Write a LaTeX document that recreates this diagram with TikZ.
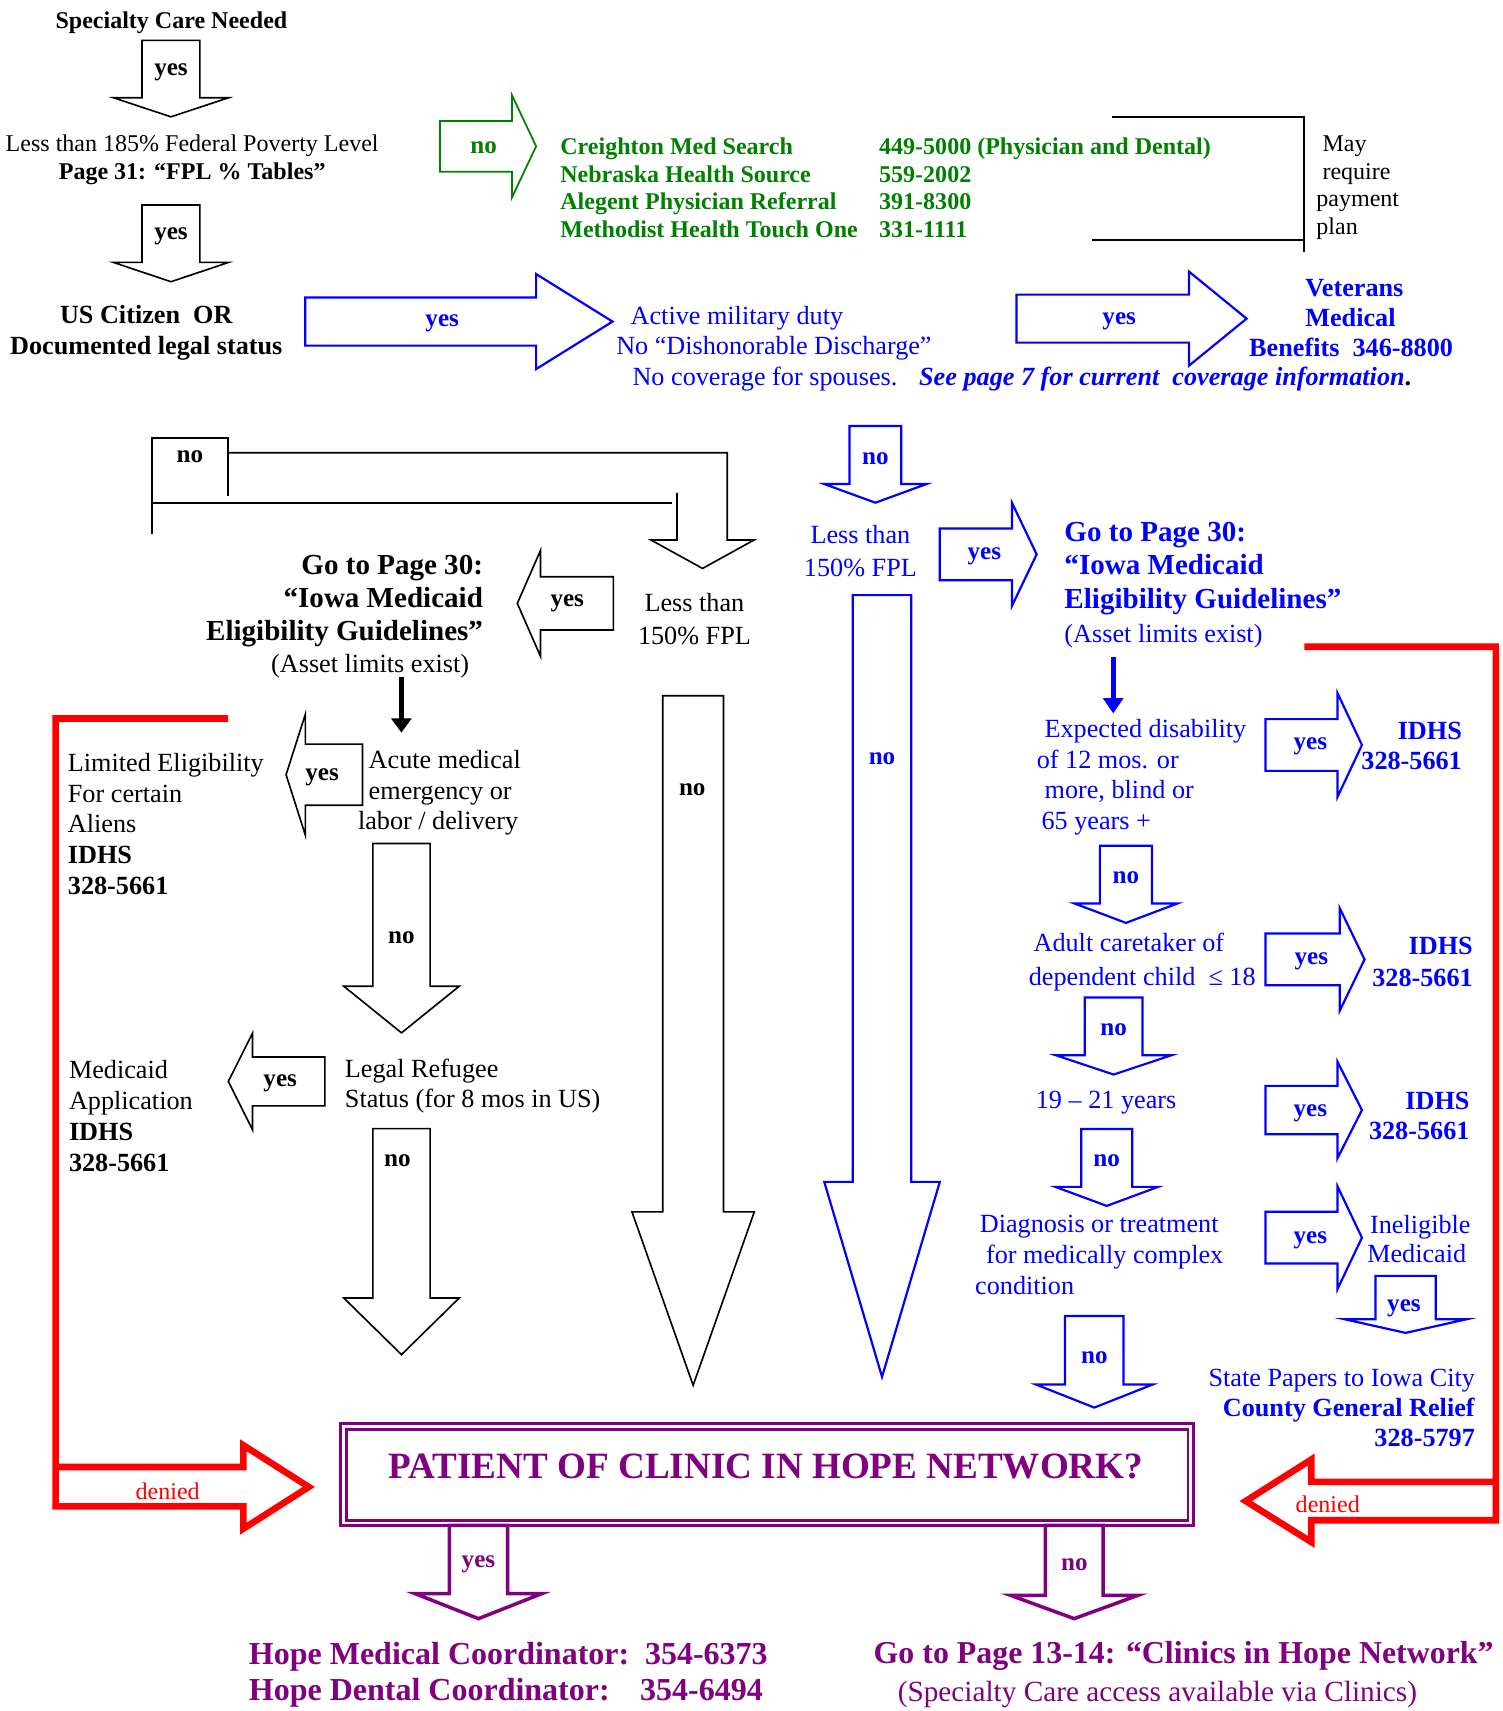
\documentclass[tikz,border=0pt]{standalone}
\usepackage{fontspec}
\setmainfont{Liberation Serif}
\usetikzlibrary{arrows.meta}
\definecolor{hgreen}{RGB}{0,128,0}
\definecolor{hpurple}{RGB}{128,0,128}
\newcommand{\vblock}[7]{\draw[#1] ({#2-#3},#5) -- ({#2+#3},#5) -- ({#2+#3},#6) -- ({#2+#4},#6) -- (#2,#7) -- ({#2-#4},#6) -- ({#2-#3},#6) -- cycle;}
\newcommand{\hblock}[7]{\draw[#1] (#5,{#2-#3}) -- (#6,{#2-#3}) -- (#6,{#2-#4}) -- (#7,#2) -- (#6,{#2+#4}) -- (#6,{#2+#3}) -- (#5,{#2+#3}) -- cycle;}
\begin{document}
\begin{tikzpicture}[x=1pt,y=-1pt,
  every node/.style={inner sep=0pt},
  txt/.style 2 args={font=\fontsize{#1}{#2}\selectfont,yshift=-2.5pt},
  btxt/.style 2 args={font=\fontsize{#1}{#2}\selectfont\bfseries,yshift=-2.5pt},
  lab/.style={btxt={23}{26}},
  blk/.style={draw=black,line width=1.5pt},
  grn/.style={draw=hgreen,line width=1.6pt},
  blu/.style={draw=blue,line width=2pt},
  pur/.style={draw=hpurple,line width=3.2pt},
  redl/.style={draw=red,line width=6pt}]
\fill[white] (0,0) rectangle (1376,1567);
\node[btxt={22}{26}] (care) at (157,18) {Specialty Care Needed};
\vblock{blk}{156.6}{26.5}{52.8}{37}{89.5}{107}
\node[lab] (yes1) at (156.6,64) {yes};
\node[txt={22}{26},align=center] (fpl) at (176,144) {Less than 185\% Federal Poverty Level\\\textbf{Page 31: “FPL \% Tables”}};
\vblock{blk}{156.6}{26.5}{52.8}{187.8}{240.3}{258}
\node[lab] (yes2) at (156.6,213.7) {yes};
\node[btxt={24}{28.5},align=center] (citizen) at (134,302.5) {US Citizen\ \ OR\\Documented legal status};
\hblock{grn}{134}{23.2}{46.6}{403}{469}{491}
\node[lab,text=hgreen] (no1) at (443,133) {no};
\node[btxt={22}{25.4},text=hgreen,align=left,anchor=west] (referral) at (513,169.5) {Creighton Med Search\\Nebraska Health Source\\Alegent Physician Referral\\Methodist Health Touch One};
\node[btxt={22}{25.4},text=hgreen,align=left,anchor=west] (phones) at (805,169.5) {449-5000 (Physician and Dental)\\559-2002\\391-8300\\331-1111};
\draw[blk,line width=2pt] (1018.7,107) -- (1194.5,107) -- (1194.5,230.5);
\draw[blk,line width=2pt] (1000.3,219.8) -- (1194.5,219.8);
\node[txt={22}{25.4},align=left,anchor=west] (payplan) at (1205.4,169.5) {\hspace*{5.6pt}May\\\hspace*{5.6pt}require\\payment\\plan};
\hblock{blu}{294.5}{22}{43.5}{279.6}{491}{561}
\node[lab,text=blue] (yes3) at (405,294) {yes};
\node[txt={24}{28},text=blue,align=left,anchor=west] (military) at (564.2,316.5) {\hspace*{13.2pt}Active military duty\\No “Dishonorable Discharge”\\\hspace*{14.9pt}No coverage for spouses.};
\node[txt={24}{28},anchor=west] (seepage) at (841.6,344.4) {\textcolor{blue}{\textbf{\textit{See page 7 for current\ \ coverage information}}}\textbf{.}};
\hblock{blu}{291.8}{22}{43}{930.9}{1089}{1141.7}
\node[lab,text=blue] (yes4) at (1025,292) {yes};
\node[btxt={24}{27.5},text=blue,align=left,anchor=west] (veterans) at (1143.9,288.5) {\hspace*{51.4pt}Veterans\\\hspace*{51.4pt}Medical\\Benefits\ \ 346-8800};
\draw[blk] (139,489.5) |- (209,401) -- (209,454.3);
\draw[blk] (209,414.6) -| (666,494.6) -- (690.5,494.6) -- (643.4,520.6) -- (596.3,494.6) -- (620,494.6) -- (620,451.3);
\draw[blk] (139,460.4) -- (615,460.4);
\node[lab] (no2) at (174,416) {no};
\node[txt={24}{29.6},align=center] (less150) at (636,564.4) {Less than\\150\% FPL};
\hblock{blk}{552.6}{24.4}{48.5}{561.7}{495}{473.8}
\node[lab] (yes5) at (519.5,549.6) {yes};
\node[btxt={26.6}{30.5},align=right,anchor=east] (medicaidK) at (442.5,548) {Go to Page 30:\\“Iowa Medicaid\\Eligibility Guidelines”};
\node[txt={24}{28}] (assetK) at (339,607.6) {(Asset limits exist)};
\coordinate (asset1) at (367.6,619.8);
\coordinate (acute1) at (367.6,671);
\draw[line width=4.4pt,-{Triangle[width=18pt,length=13pt]}] (asset1) -- (acute1);
\draw[redl] (209,658) -| (51,1379.5) -- (222.9,1379.5) -- (222.9,1400) -- (282.8,1361.8) -- (222.9,1323.6) -- (222.9,1343.5) -- (51,1343.5);
\node[txt={22}{26},text=red] (denied1) at (153.6,1363.3) {denied};
\node[txt={24}{28.2},align=left,anchor=west] (limited) at (62,752) {Limited Eligibility\\For certain\\Aliens\\\textbf{IDHS}\\\textbf{328-5661}};
\hblock{blk}{709.5}{28}{55.5}{332}{279.7}{262}
\node[lab] (yes6) at (295,709) {yes};
\node[txt={24}{28.1},align=left,anchor=west] (acute) at (327.7,723.6) {\hspace*{9.8pt}Acute medical\\\hspace*{9.8pt}emergency or\\labor / delivery};
\vblock{blk}{367.7}{26.2}{52.9}{772.5}{903.2}{945.9}
\node[lab] (no3) at (367.7,856.5) {no};
\node[txt={24}{27.4},align=left,anchor=west] (refugee) at (315.7,992.3) {Legal Refugee\\Status (for 8 mos in US)};
\hblock{blk}{990.4}{22.4}{44.3}{297.5}{231.3}{209.1}
\node[lab] (yes7) at (256.6,990) {yes};
\node[txt={24}{28.3},align=left,anchor=west] (medapp) at (63,1019.8) {Medicaid\\Application\\\textbf{IDHS}\\\textbf{328-5661}};
\vblock{blk}{367.7}{26.2}{52.9}{1033.6}{1188.7}{1240.6}
\node[lab] (no4) at (364,1060.4) {no};
\vblock{blk}{634.8}{27.8}{56}{637.2}{1109.9}{1268.7}
\node[lab] (no5) at (634,720.6) {no};
\vblock{blu}{801.7}{23.7}{46.8}{390.2}{443.3}{460.4}
\node[lab,text=blue] (no6) at (801.7,417.7) {no};
\node[txt={24}{30.5},text=blue,align=center] (less150b) at (788,502.3) {Less than\\150\% FPL};
\hblock{blu}{507.7}{23.7}{47.2}{860.7}{926.8}{949.4}
\node[lab,text=blue] (yes8) at (901.5,506.9) {yes};
\node[btxt={26.6}{30.8},text=blue,align=left,anchor=west] (medicaidB) at (974.7,517.9) {Go to Page 30:\\“Iowa Medicaid\\Eligibility Guidelines”};
\node[txt={24}{28},text=blue,anchor=west] (assetB) at (974.7,580) {(Asset limits exist)};
\coordinate (asset2) at (1019.5,601.5);
\coordinate (disab1) at (1019.5,653.4);
\draw[blue,line width=4.4pt,-{Triangle[width=18pt,length=14pt]}] (asset2) -- (disab1);
\node[txt={24}{28.2},text=blue,align=left,anchor=west] (disab) at (949.4,709.4) {\hspace*{7.1pt}Expected disability\\of 12 mos. or\\\hspace*{7.1pt}more, blind or\\\hspace*{4.3pt}65 years +};
\hblock{blu}{682.3}{23.7}{47.4}{1159}{1225}{1247.3}
\node[lab,text=blue] (yes9) at (1200,681) {yes};
\node[btxt={24}{27.6},text=blue,align=right,anchor=east] (idhs1) at (1339,681) {IDHS\\328-5661};
\vblock{blu}{1031.2}{23.9}{47}{774.6}{827.5}{845.2}
\node[lab,text=blue] (no7) at (1031.2,801.5) {no};
\node[txt={24}{30.5},text=blue,align=left,anchor=west] (caretaker) at (942,878.7) {\hspace*{4.4pt}Adult caretaker of\\dependent child\ \ ≤ 18};
\hblock{blu}{878.7}{23.7}{46.9}{1159}{1227}{1249.7}
\node[lab,text=blue] (yes10) at (1201,878) {yes};
\node[btxt={24}{29.5},text=blue,align=right,anchor=east] (idhs2) at (1349,878.3) {IDHS\\328-5661};
\vblock{blu}{1019.9}{26.5}{53.1}{913.6}{966.4}{984.1}
\node[lab,text=blue] (no8) at (1019.9,940.4) {no};
\node[txt={24}{28},text=blue,anchor=west] (ages) at (948.5,1007) {19 – 21 years};
\hblock{blu}{1016.6}{22.1}{44}{1159}{1225}{1247.3}
\node[lab,text=blue] (yes11) at (1200,1016.8) {yes};
\node[btxt={24}{27.6},text=blue,align=right,anchor=east] (idhs3) at (1346,1019.8) {IDHS\\328-5661};
\vblock{blu}{1013.6}{23.3}{47}{1033.9}{1087}{1104.4}
\node[lab,text=blue] (no9) at (1013.6,1060.4) {no};
\node[txt={24}{28},text=blue,align=left,anchor=west] (diagnosis) at (892.9,1146.8) {\hspace*{4.3pt}Diagnosis or treatment\\\hspace*{10pt}for medically complex\\condition};
\hblock{blu}{1133.5}{23.7}{46.9}{1159}{1225}{1247.3}
\node[lab,text=blue] (yes12) at (1200,1133) {yes};
\node[txt={24}{26.6},text=blue,align=left,anchor=west] (ineligible) at (1252,1132.3) {\hspace*{2.6pt}Ineligible\\Medicaid};
\vblock{blu}{1287.3}{27.6}{55.9}{1168.5}{1208.2}{1220.7}
\node[lab,text=blue] (yes13) at (1285.8,1195.4) {yes};
\node[txt={24}{27.5},text=blue,align=right,anchor=east] (relief) at (1351,1287) {State Papers to Iowa City\\\textbf{County General Relief}\\\textbf{328-5797}};
\vblock{blu}{1002.2}{26.8}{53.4}{1205.2}{1268}{1289.1}
\node[lab,text=blue] (no10) at (1002.2,1241.2) {no};
\vblock{blu}{807.8}{26.8}{52.9}{545}{1082.4}{1261}
\node[lab,text=blue] (no11) at (807.8,692.5) {no};
\draw[redl] (1194.5,592.3) -| (1370,1392.3) -- (1200.9,1392.3) -- (1200.9,1412.2) -- (1140.9,1374.7) -- (1200.9,1336.7) -- (1200.9,1357.2) -- (1370,1357.2);
\node[txt={22}{26},text=red] (denied2) at (1216,1375.5) {denied};
\draw[pur,line width=2.4pt] (312.1,1303.8) rectangle (1093,1396.9);
\draw[pur,line width=2.4pt] (317.5,1309) rectangle (1088,1392.3);
\node[btxt={34}{40},text=hpurple] (patient) at (701.5,1340.4) {PATIENT OF CLINIC IN HOPE NETWORK?};
\vblock{pur}{438.2}{26.6}{58}{1397}{1459.5}{1482.4}
\node[lab,text=hpurple] (yes14) at (438.2,1430.5) {yes};
\vblock{pur}{983.8}{26.5}{58.5}{1397}{1461}{1482.4}
\node[lab,text=hpurple] (no12) at (984,1430.5) {no};
\node[btxt={29.3}{33.5},text=hpurple,anchor=base west] (coord1) at (227.8,1521.7) {Hope Medical Coordinator:};
\node[btxt={29.3}{33.5},text=hpurple,anchor=base west] (coord2) at (227.8,1555.2) {Hope Dental Coordinator:};
\node[btxt={29.3}{33.5},text=hpurple,anchor=base west] (medphone) at (590.6,1521.7) {354-6373};
\node[btxt={29.3}{33.5},text=hpurple,anchor=base west] (dentphone) at (586.1,1555.2) {354-6494};
\node[btxt={29.2}{34},text=hpurple] (network) at (1084,1514.5) {Go to Page 13-14: “Clinics in Hope Network”};
\node[txt={26.8}{30},text=hpurple] (access) at (1060,1549.6) {(Specialty Care access available via Clinics)};
\end{tikzpicture}
\end{document}
